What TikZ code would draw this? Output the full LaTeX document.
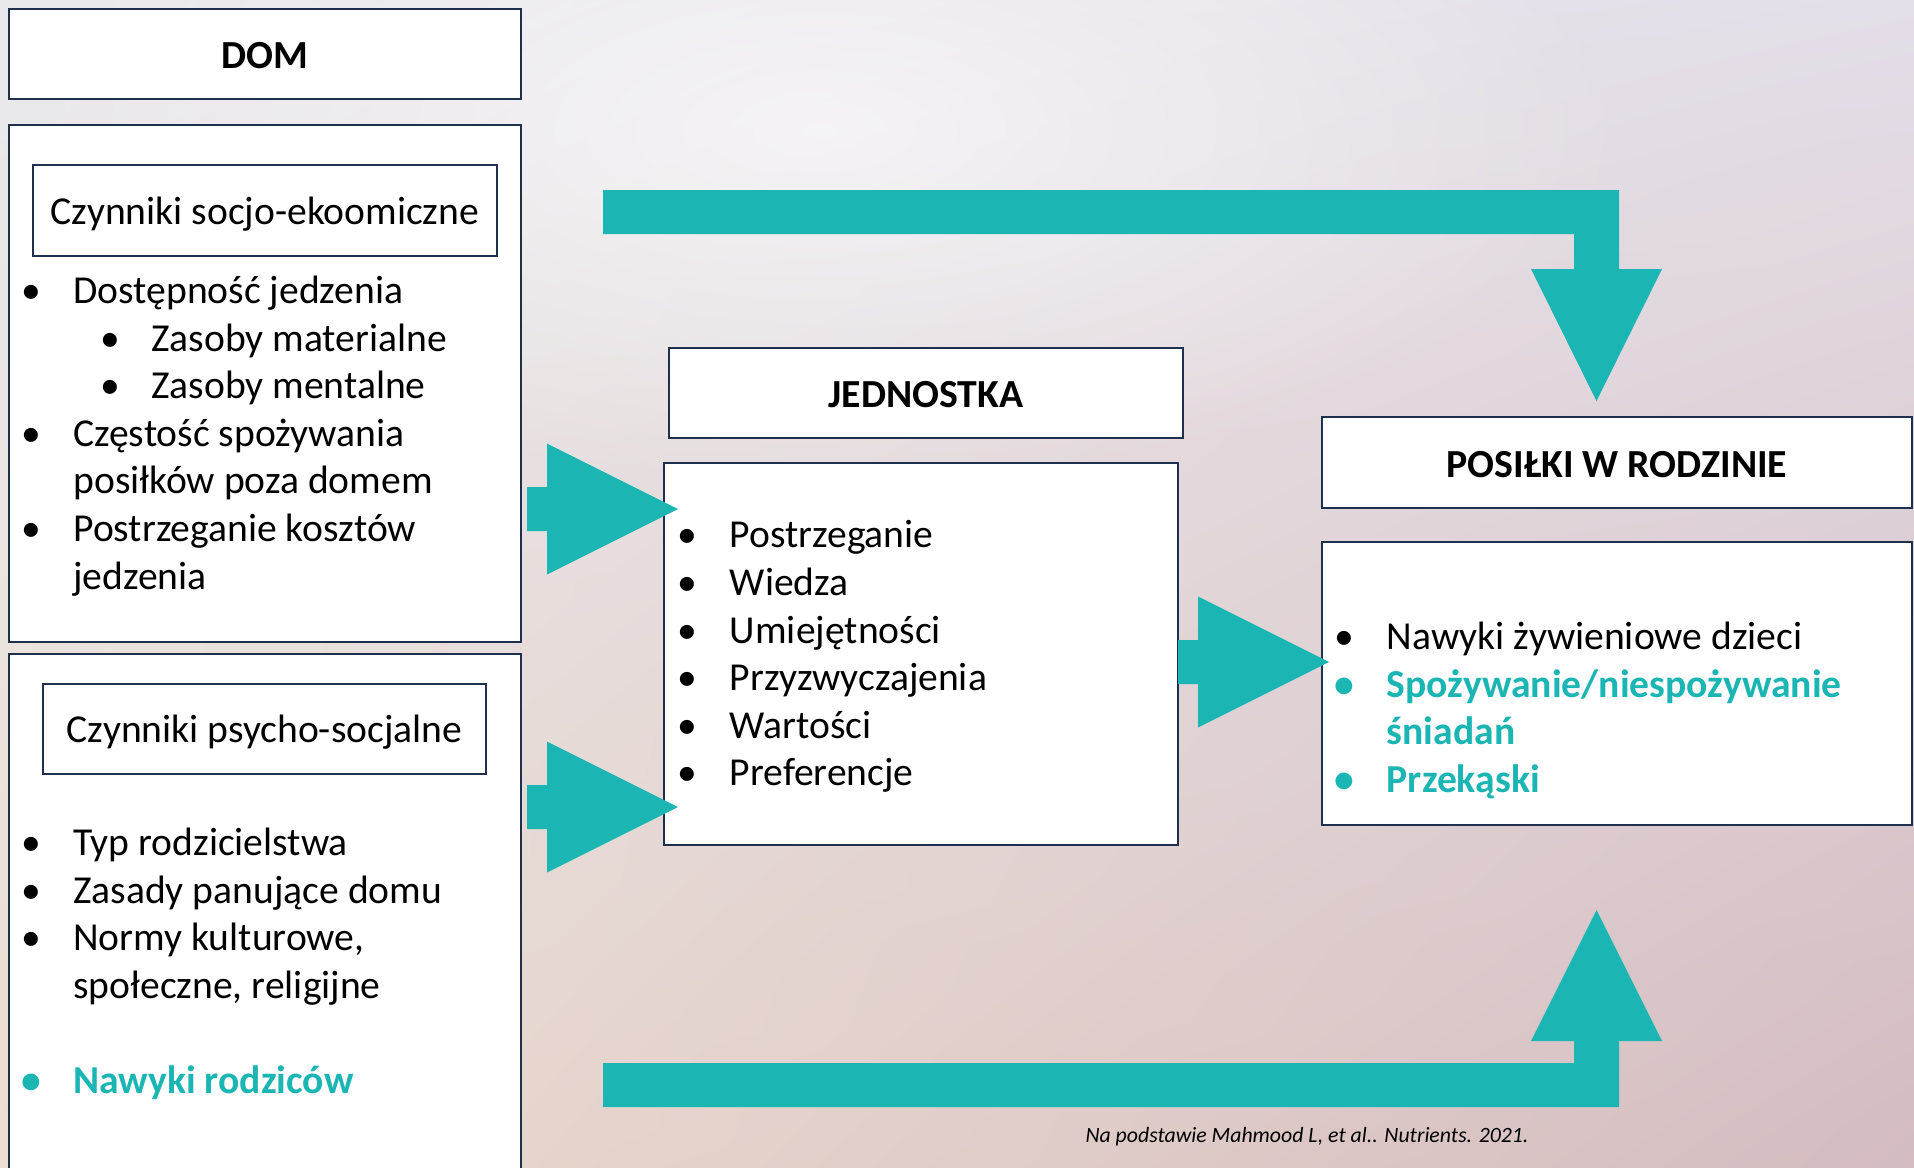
\documentclass[tikz,border=0pt]{standalone}
\usepackage{fontspec}
\setmainfont{Carlito}
\usetikzlibrary{shadings,fadings}

\definecolor{arrowteal}{HTML}{1BB5B4}
\definecolor{boxline}{HTML}{1F2F4E}
\tikzfading[name=glow, inner color=transparent!0, outer color=transparent!100]
\newcommand{\itm}[1]{\strut\makebox[26pt][l]{\textbullet}#1}
\newcommand{\subitm}[1]{\strut\hspace*{39.75pt}\makebox[25.25pt][l]{\textbullet}#1}
\newcommand{\contline}[1]{\strut\hspace*{26pt}#1}
\newcommand{\hitm}[1]{\textcolor{arrowteal}{\bfseries\itm{#1}}}
\newcommand{\hcontline}[1]{\textcolor{arrowteal}{\bfseries\contline{#1}}}

\tikzset{
  plainbox/.style={draw=boxline, line width=1pt, fill=white, inner sep=0pt},
  boxtitle/.style={plainbox, font=\bfseries\fontsize{19.9}{23.8}\selectfont, text height=14.6pt, text depth=0pt},
  boxhead/.style={plainbox, font=\fontsize{19.8}{23.8}\selectfont, text depth=0pt},
  itemlist/.style={align=left, anchor=north west, inner sep=0pt, font=\fontsize{19.8}{23.8}\selectfont},
  harrow/.pic={\fill[arrowteal] (0,0) -- (-131,-65.5) -- (-131,-22) -- (-#1,-22) -- (-#1,22) -- (-131,22) -- (-131,65.5) -- cycle;}
}

\begin{document}
\begin{tikzpicture}[x=0.5pt, y=-0.5pt]
 % background
 \useasboundingbox (0,0) rectangle (1914,1167);
 \shade[shading=bilinear interpolation,
   upper left={rgb,255:red,233;green,233;blue,237}, upper right={rgb,255:red,228;green,222;blue,232},
   lower left={rgb,255:red,237;green,222;blue,208}, lower right={rgb,255:red,212;green,188;blue,192}]
   (0,0) rectangle (1914,1167);
 \fill[white, opacity=0.6, path fading=glow] (820,130) ellipse [x radius=820, y radius=360];

 % DOM
 \node[boxtitle, minimum width=256.25pt, minimum height=45.25pt] (dom) at (264.75,53.75) {DOM};
 \node[plainbox, minimum width=256.25pt, minimum height=258.75pt] (socio) at (264.75,383.25) {};
 \node[boxhead, minimum width=232pt, minimum height=45.5pt] (sociohead) at (265,210.5) {Czynniki socjo-ekoomiczne};
 \node[plainbox, minimum width=256.25pt, minimum height=268pt] (psycho) at (264.75,922) {};
 \node[boxhead, minimum width=221.5pt, minimum height=45pt] (psychohead) at (264.5,729) {Czynniki psycho-socjalne};

 % JEDNOSTKA
 \node[boxtitle, minimum width=257pt, minimum height=45pt] (jedtitle) at (926,393) {JEDNOSTKA};
 \node[plainbox, minimum width=257pt, minimum height=191pt] (jedbox) at (921,654) {};

 % POSILKI
 \node[boxtitle, minimum width=295pt, minimum height=45.5pt] (postitle) at (1617,462.5) {POSIŁKI W RODZINIE};
 \node[plainbox, minimum width=295pt, minimum height=141.5pt] (posbox) at (1617,683.5) {};

 % arrows
 \pic at (678,509) {harrow=151};
 \pic at (678,807) {harrow=151};
 \pic at (1329,662) {harrow=151};
 \fill[arrowteal] (603,190) -- (1619,190) -- (1619,269) -- (1662,269) -- (1596.5,401)
   -- (1531,269) -- (1574,269) -- (1574,234) -- (603,234) -- cycle;
 \fill[arrowteal] (603,1107) -- (1619,1107) -- (1619,1041) -- (1662,1041) -- (1596.5,910)
   -- (1531,1041) -- (1574,1041) -- (1574,1063) -- (603,1063) -- cycle;

 % lists
 \node[itemlist] (sociolist) at (21,269.7) {\itm{Dostępność jedzenia}\\
   \subitm{Zasoby materialne}\\
   \subitm{Zasoby mentalne}\\
   \itm{Częstość spożywania}\\
   \contline{posiłków poza domem}\\
   \itm{Postrzeganie kosztów}\\
   \contline{jedzenia}};
 \node[itemlist] (psycholist) at (21,821.7) {\itm{Typ rodzicielstwa}\\
   \itm{Zasady panujące domu}\\
   \itm{Normy kulturowe,}\\
   \contline{społeczne, religijne}\\
   \strut\\
   \hitm{Nawyki rodziców}};
 \node[itemlist] (jedlist) at (677.5,514.2) {\itm{Postrzeganie}\\
   \itm{Wiedza}\\
   \itm{Umiejętności}\\
   \itm{Przyzwyczajenia}\\
   \itm{Wartości}\\
   \itm{Preferencje}};
 \node[itemlist] (poslist) at (1334.5,615.7) {\itm{Nawyki żywieniowe dzieci}\\
   \hitm{Spożywanie/niespożywanie}\\
   \hcontline{śniadań}\\
   \hitm{Przekąski}};

 \node[font=\itshape\fontsize{10.9}{12}\selectfont] (source) at (1307,1137) {Na podstawie Mahmood L, et al.. Nutrients. 2021.};
\end{tikzpicture}
\end{document}
